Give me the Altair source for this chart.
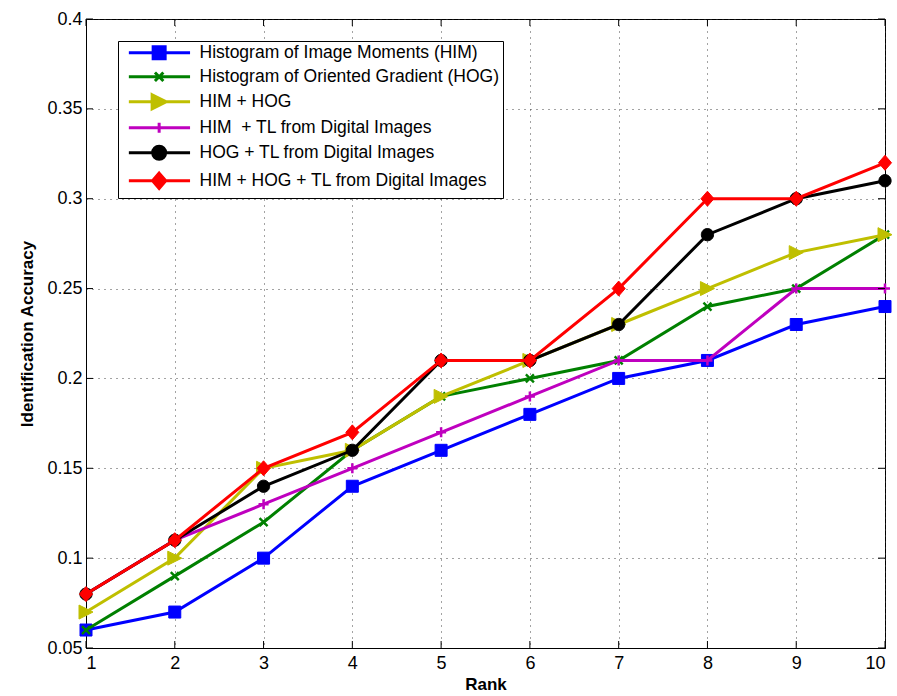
import altair as alt
import pandas as pd

# ---------------- data ----------------
ranks = list(range(1, 11))
series_names = [
    "Histogram of Image Moments (HIM)",
    "Histogram of Oriented Gradient (HOG)",
    "HIM + HOG",
    "HIM\u00a0 + TL from Digital Images",
    "HOG + TL from Digital Images",
    "HIM + HOG + TL from Digital Images",
]
him = [0.06, 0.07, 0.10, 0.14, 0.16, 0.18, 0.20, 0.21, 0.23, 0.24]
hog = [0.06, 0.09, 0.12, 0.16, 0.19, 0.20, 0.21, 0.24, 0.25, 0.28]
him_hog = [0.07, 0.10, 0.15, 0.16, 0.19, 0.21, 0.23, 0.25, 0.27, 0.28]
him_tl = [0.08, 0.11, 0.13, 0.15, 0.17, 0.19, 0.21, 0.21, 0.25, 0.25]
hog_tl = [0.08, 0.11, 0.14, 0.16, 0.21, 0.21, 0.23, 0.28, 0.30, 0.31]
all_tl = [0.08, 0.11, 0.15, 0.17, 0.21, 0.21, 0.25, 0.30, 0.30, 0.32]
series_values = [him, hog, him_hog, him_tl, hog_tl, all_tl]

x_ticks = list(range(1, 11))
y_ticks = [0.05, 0.1, 0.15, 0.2, 0.25, 0.3, 0.35, 0.4]

# ---------------- style ----------------
colors = ["#0000FF", "#008000", "#BFBF00", "#BF00BF", "#000000", "#FF0000"]

# marker paths in unit coordinates (scaled by sqrt(size)/2)
K = 0.552
marker_paths = [
    "M-1,-1L1,-1L1,1L-1,1Z",            # square
    "M-1,-1L1,1M-1,1L1,-1",             # x
    "M-1,-1L1,0L-1,1Z",                 # triangle right
    "M-1,0L1,0M0,-1L0,1",               # plus
    f"M-1,0C-1,-{K},-{K},-1,0,-1C{K},-1,1,-{K},1,0C1,{K},{K},1,0,1C-{K},1,-1,{K},-1,0Z",  # circle
    "M0,-1.15L1,0L0,1.15L-1,0Z",        # diamond
]
marker_sizes = [144, 64, 196, 100, 150, 170]
marker_strokes = [1, 2.4, 1, 2.5, 1, 1]

W, H = 799, 629
TICK = 7

# legend symbol: line + marker (unit = sqrt(144)/2 = 6 px)
MX = 4.9               # marker centre offset (units)
LA, LB = -0.15, 10.05  # line extent (units)
legend_marker_scale = [1.0, 0.7, 1.17, 0.83, 1.08, 1.1]


def scaled_path(path, s, dx):
    toks = []
    num = ""
    for ch in path:
        if ch.isalpha() or ch == ",":
            if num:
                toks.append(num)
                num = ""
            toks.append(ch)
        elif ch == "-" and num:
            toks.append(num)
            num = ch
        else:
            num += ch
    if num:
        toks.append(num)
    res, idx = [], 0
    for t in toks:
        if t.isalpha():
            idx = 0
            res.append(t)
        elif t == ",":
            res.append(t)
        else:
            v = float(t)
            v = v * s + dx if idx % 2 == 0 else v * s
            res.append(f"{v:.3f}")
            idx += 1
    return "".join(res)


legend_paths = [
    f"M{LA},0L{LB},0" + scaled_path(p, k, MX)
    for p, k in zip(marker_paths, legend_marker_scale)
]

# ---------------- tables ----------------
rows = []
for name, vals in zip(series_names, series_values):
    for r, v in zip(ranks, vals):
        rows.append({"series": name, "rank": r, "acc": v})
df = pd.DataFrame(rows)

xscale = alt.Scale(domain=[1, 10], nice=False, zero=False)
yscale = alt.Scale(domain=[0.05, 0.4], nice=False, zero=False)
x_axis = alt.Axis(values=x_ticks, format="d", title="Rank", grid=True)
y_axis = alt.Axis(values=y_ticks, format="~g", title="Identification Accuracy", grid=True)


def X():
    return alt.X("rank:Q", scale=xscale, axis=x_axis)


def Y():
    return alt.Y("acc:Q", scale=yscale, axis=y_axis)


layers = []

# invisible layer that carries the legend
layers.append(
    alt.Chart(df).mark_point(opacity=0, strokeWidth=3, size=144).encode(
        x=X(),
        y=Y(),
        fill=alt.Fill("series:N", scale=alt.Scale(domain=series_names, range=colors),
                      legend=alt.Legend(title=None)),
        stroke=alt.Stroke("series:N", scale=alt.Scale(domain=series_names, range=colors),
                          legend=alt.Legend(title=None)),
        shape=alt.Shape("series:N", scale=alt.Scale(domain=series_names, range=legend_paths),
                        legend=alt.Legend(title=None)),
    )
)

for name, vals, c, p, s, sw in zip(series_names, series_values, colors,
                                   marker_paths, marker_sizes, marker_strokes):
    sub = pd.DataFrame({"rank": ranks, "acc": vals})
    base = alt.Chart(sub)
    layers.append(base.mark_line(color=c, strokeWidth=3).encode(x=X(), y=Y()))
    layers.append(base.mark_point(shape=p, size=s, fill=c, stroke=c, strokeWidth=sw,
                                  opacity=1, fillOpacity=1).encode(x=X(), y=Y()))

# inward ticks of the MATLAB-style frame
yt = pd.DataFrame({"acc": y_ticks})
xt = pd.DataFrame({"rank": x_ticks})
layers.append(alt.Chart(yt).mark_rule(color="black", strokeWidth=1).encode(
    y=Y(), x=alt.value(0), x2=alt.value(TICK)))
layers.append(alt.Chart(yt).mark_rule(color="black", strokeWidth=1).encode(
    y=Y(), x=alt.value(W - TICK), x2=alt.value(W)))
layers.append(alt.Chart(xt).mark_rule(color="black", strokeWidth=1).encode(
    x=X(), y=alt.value(H), y2=alt.value(H - TICK)))
layers.append(alt.Chart(xt).mark_rule(color="black", strokeWidth=1).encode(
    x=X(), y=alt.value(0), y2=alt.value(TICK)))

chart = alt.layer(*layers).properties(
    width=W,
    height=H,
    autosize=alt.AutoSizeParams(type="none"),
    padding={"left": 86, "top": 19, "right": 12, "bottom": 48},
    background="white",
).configure(
    font="Liberation Sans",
).configure_view(
    stroke="black",
    strokeWidth=1,
).configure_axis(
    labelFont="Liberation Sans",
    labelFontSize=18,
    labelColor="black",
    titleFont="Liberation Sans",
    titleFontSize=17,
    titleFontWeight="bold",
    titleColor="black",
    domainColor="black",
    domainWidth=1,
    ticks=False,
    gridColor="#333333",
    gridDash=[1, 5],
    gridWidth=1,
    gridOpacity=0.9,
).configure_axisY(
    labelPadding=4,
    titlePadding=10,
).configure_axisX(
    labelPadding=6,
    titlePadding=4,
).configure_legend(
    orient="none",
    legendX=32,
    legendY=22,
    padding=3,
    strokeColor="black",
    fillColor="white",
    cornerRadius=0,
    labelFont="Liberation Sans",
    labelFontSize=17.5,
    labelColor="black",
    labelOffset=61,
    labelLimit=0,
    symbolSize=144,
    symbolStrokeWidth=3,
    symbolOpacity=1,
    rowPadding=1,
)

chart.save("out.html", embed_options={"renderer": "svg", "actions": False})
